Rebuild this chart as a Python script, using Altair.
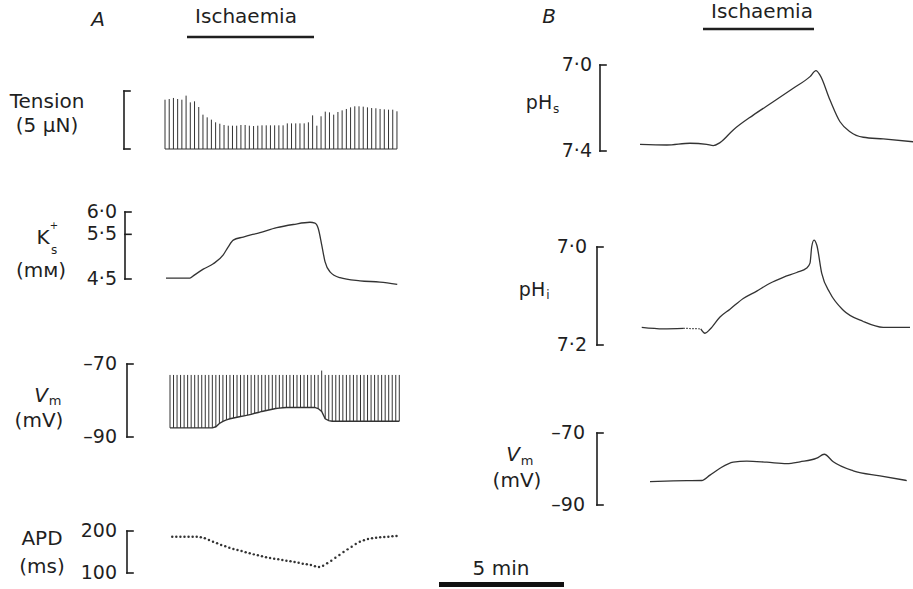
import altair as alt
import pandas as pd

FONT = "DejaVu Sans"
INK = "#1f1f1f"
TRACE = "#333333"

# ---------------- Panel A data ----------------
# Tension (uN), one twitch per stimulus
TENSION_UN = [4.25, 4.31, 4.40, 4.31, 4.25, 4.60, 4.02, 4.11, 3.62, 2.96,
              2.73, 2.53, 2.30, 2.18, 2.07, 2.01, 2.01, 2.01, 2.07, 2.07,
              2.01, 1.98, 2.01, 2.04, 2.04, 2.04, 2.04, 2.04, 2.04, 2.21,
              2.21, 2.21, 2.21, 2.21, 2.30, 2.90, 2.01, 2.82, 3.22, 3.16,
              2.96, 3.19, 3.33, 3.45, 3.59, 3.68, 3.68, 3.65, 3.59, 3.53,
              3.51, 3.45, 3.42, 3.39, 3.39, 3.25]
TENSION_T0 = 0.0      # min
TENSION_DT = 0.1687   # min between stimuli

# Extracellular K+ (mM)
K_T = [0.04, 1.0, 1.13, 1.53, 1.93, 2.33, 2.53, 2.73, 3.13, 3.8, 4.47,
       5.13, 5.8, 6.0, 6.13, 6.27, 6.4, 6.6, 7.0, 7.8, 8.6, 9.29]
K_MM = [4.52, 4.52, 4.57, 4.72, 4.84, 5.04, 5.22, 5.37, 5.44, 5.54, 5.65,
        5.72, 5.77, 5.75, 5.63, 5.26, 4.89, 4.66, 4.53, 4.46, 4.43, 4.38]

# Membrane potential (mV): resting level before each action potential
VMA_T0 = 0.2
VMA_DT = 0.1411
VMA_REST = [-87.5, -87.5, -87.5, -87.5, -87.5, -87.5, -87.5, -87.5, -87.5, -87.5,
            -87.5, -87.5, -87.5, -87.2, -86.3, -85.7, -85.3, -85.0, -84.8, -84.6,
            -84.4, -84.2, -84.0, -83.8, -83.5, -83.3, -83.0, -82.8, -82.6, -82.4,
            -82.2, -82.1, -82.0, -81.9, -81.9, -81.9, -81.9, -81.9, -81.9, -81.9,
            -81.9, -81.9, -82.2, -83.0, -85.0, -85.5, -85.7, -85.7, -85.7, -85.7,
            -85.7, -85.7, -85.7, -85.7, -85.7, -85.7, -85.7, -85.7, -85.7, -85.7,
            -85.7, -85.7, -85.7, -85.7, -85.7, -85.7]
VMA_PEAK = -73.0            # clipped top of the recorded action potentials
VMA_PEAK_EXCEPTION = {43: -71.8}

# Action potential duration (ms)
APD_T0 = 0.29
APD_DT = 0.1631
APD_MS = [186.5, 186.5, 186.5, 186.5, 186.5, 186.5, 186.5,
          185.0, 182.5, 178.6, 174.6, 170.6, 166.7, 163.5, 160.3, 157.1, 154.8,
          152.4, 149.2, 146.8, 144.4, 142.1, 139.7, 137.3, 135.7, 134.1, 132.5,
          131.0, 129.4, 127.8, 126.2, 124.6, 122.2, 120.6, 119.0, 115.9, 114.3,
          117.5, 123.0, 129.4, 136.5, 142.9, 150.0, 156.3, 162.7, 169.0, 174.6,
          177.8, 181.0, 182.5, 184.1, 185.0, 185.7, 186.5, 187.3, 188.1]

ISCH_A = [0.88, 5.96]        # min
SCALEBAR_MIN = [10.96, 15.96]  # 5 min calibration bar

# ---------------- Panel B data ----------------
PHS_T = [0.0, 1.07, 2.0, 2.67, 2.93, 3.2, 3.73, 4.53, 5.33, 6.13, 6.8, 7.04,
         7.2, 7.6, 8.0, 8.4, 8.93, 9.73, 10.93]
PHS = [7.369, 7.372, 7.364, 7.369, 7.375, 7.361, 7.302, 7.233, 7.171, 7.108,
       7.054, 7.026, 7.047, 7.163, 7.264, 7.310, 7.336, 7.344, 7.357]

PHI_T = [0.07, 0.93, 1.73, 2.43, 2.6, 2.8, 3.2, 3.6, 4.13, 4.67, 5.2, 5.73,
         6.27, 6.67, 6.8, 6.87, 6.96, 7.07, 7.27, 7.6, 8.13, 8.93, 9.73, 10.8]
PHI = [7.164, 7.167, 7.166, 7.167, 7.176, 7.168, 7.143, 7.127, 7.105, 7.090,
       7.074, 7.062, 7.052, 7.043, 7.033, 6.999, 6.986, 6.996, 7.054, 7.094,
       7.129, 7.152, 7.164, 7.164]
PHI_DOTTED = (1.73, 2.43)

VMB_T = [0.4, 1.33, 2.47, 2.8, 3.2, 3.73, 4.27, 5.07, 5.87, 6.4, 7.07, 7.37,
         7.73, 8.53, 9.6, 10.67]
VMB = [-83.5, -83.3, -83.2, -81.7, -79.8, -78.1, -77.8, -78.1, -78.5, -78.0,
       -77.0, -75.9, -78.0, -80.5, -81.9, -83.2]

ISCH_B = [2.52, 6.96]

# calibration brackets
TEN_TICKS, TEN_LABELS = [0, 5], ["", ""]
K_TICKS, K_LABELS = [4.5, 5.5, 6.0], ["4·5", "5·5", "6·0"]
VM_TICKS, VM_LABELS = [-90, -70], ["–90", "–70"]
APD_TICKS, APD_LABELS = [100, 200], ["100", "200"]
PHS_TICKS, PHS_LABELS = [7.0, 7.4], ["7·0", "7·4"]
PHI_TICKS, PHI_LABELS = [7.0, 7.2], ["7·0", "7·2"]

# ---------------- helpers ----------------
def xscale(panel):
    if panel == "A":
        return alt.Scale(domain=[0, 16], range=[165, 565], nice=False, zero=False)
    return alt.Scale(domain=[0, 11], range=[640, 915], nice=False, zero=False)


def yscale(domain, rng):
    return alt.Scale(domain=domain, range=rng, nice=False, zero=False)


ONE = pd.DataFrame({"one": [1]})


def txt(s, x, y, size=20, style="normal", align="center"):
    return alt.Chart(ONE).mark_text(
        text=s, font=FONT, fontSize=size, fontStyle=style, align=align,
        baseline="middle", color=INK
    ).encode(x=alt.value(x), y=alt.value(y))


def bracket(ticks, labels, ysc, x_line, tick_len, label_right, size=19):
    ends = pd.DataFrame({"lo": [min(ticks)], "hi": [max(ticks)]})
    tdf = pd.DataFrame({"v": ticks, "lab": labels})
    out = [
        alt.Chart(ends).mark_rule(color=INK, strokeWidth=1.6, strokeCap="square").encode(
            x=alt.value(x_line), y=alt.Y("lo:Q", scale=ysc, axis=None), y2="hi:Q"),
        alt.Chart(tdf).mark_rule(color=INK, strokeWidth=1.6, strokeCap="square").encode(
            x=alt.value(x_line), x2=alt.value(x_line + tick_len),
            y=alt.Y("v:Q", scale=ysc, axis=None)),
    ]
    if any(labels):
        out.append(alt.Chart(tdf).mark_text(
            align="right", baseline="middle", font=FONT, fontSize=size, color=INK
        ).encode(x=alt.value(label_right), y=alt.Y("v:Q", scale=ysc, axis=None),
                 text="lab:N"))
    return out


layers = []

# ---- Tension ----
ysT = yscale([0, 5], [149, 91])
ten_df = pd.DataFrame({
    "t": [TENSION_T0 + i * TENSION_DT for i in range(len(TENSION_UN))],
    "f": TENSION_UN,
})
layers.append(alt.Chart(ten_df).mark_rule(color=TRACE, strokeWidth=1.0).encode(
    x=alt.X("t:Q", scale=xscale("A"), axis=None),
    y=alt.Y("f:Q", scale=ysT, axis=None), y2=alt.datum(0)))
base_df = pd.DataFrame({"t0": [ten_df.t.min()], "t1": [ten_df.t.max()], "z": [0]})
layers.append(alt.Chart(base_df).mark_rule(color=TRACE, strokeWidth=1.2).encode(
    x=alt.X("t0:Q", scale=xscale("A"), axis=None), x2="t1:Q",
    y=alt.Y("z:Q", scale=ysT, axis=None)))
layers += bracket(TEN_TICKS, TEN_LABELS, ysT, 124, 6, 117)

# ---- K+ ----
ysK = yscale([4.5, 6.0], [279, 212])
layers.append(alt.Chart(pd.DataFrame({"t": K_T, "k": K_MM})).mark_line(
    color=TRACE, strokeWidth=1.3, interpolate="monotone").encode(
    x=alt.X("t:Q", scale=xscale("A"), axis=None),
    y=alt.Y("k:Q", scale=ysK, axis=None)))
layers += bracket(K_TICKS, K_LABELS, ysK, 125, 6, 117)

# ---- Vm A ----
ysV = yscale([-90, -70], [437, 364])
vma_df = pd.DataFrame({
    "t": [VMA_T0 + i * VMA_DT for i in range(len(VMA_REST))],
    "rest": VMA_REST,
    "peak": [VMA_PEAK_EXCEPTION.get(i, VMA_PEAK) for i in range(len(VMA_REST))],
})
layers.append(alt.Chart(vma_df).mark_rule(color=TRACE, strokeWidth=1.0).encode(
    x=alt.X("t:Q", scale=xscale("A"), axis=None),
    y=alt.Y("rest:Q", scale=ysV, axis=None), y2="peak:Q"))
layers.append(alt.Chart(vma_df).mark_line(color=TRACE, strokeWidth=1.4).encode(
    x=alt.X("t:Q", scale=xscale("A"), axis=None),
    y=alt.Y("rest:Q", scale=ysV, axis=None)))
layers += bracket(VM_TICKS, VM_LABELS, ysV, 127, 6, 117)

# ---- APD ----
ysA = yscale([100, 200], [573, 531])
apd_df = pd.DataFrame({
    "t": [APD_T0 + i * APD_DT for i in range(len(APD_MS))],
    "apd": APD_MS,
})
layers.append(alt.Chart(apd_df).mark_circle(color=TRACE, size=6, opacity=1).encode(
    x=alt.X("t:Q", scale=xscale("A"), axis=None),
    y=alt.Y("apd:Q", scale=ysA, axis=None)))
layers += bracket(APD_TICKS, APD_LABELS, ysA, 127, 6, 117)

# ---- Ischaemia A and 5 min bar ----
layers.append(alt.Chart(pd.DataFrame({"s": [ISCH_A[0]], "e": [ISCH_A[1]]})).mark_rule(
    color=INK, strokeWidth=2.6).encode(
    x=alt.X("s:Q", scale=xscale("A"), axis=None), x2="e:Q", y=alt.value(37)))
layers.append(alt.Chart(pd.DataFrame({"s": [SCALEBAR_MIN[0]], "e": [SCALEBAR_MIN[1]]})).mark_rule(
    color="#111111", strokeWidth=5).encode(
    x=alt.X("s:Q", scale=xscale("A"), axis=None), x2="e:Q", y=alt.value(584.5)))

# ---- pHs ----
ysPs = yscale([7.0, 7.4], [65, 151])
layers.append(alt.Chart(pd.DataFrame({"t": PHS_T, "ph": PHS})).mark_line(
    color=TRACE, strokeWidth=1.3, interpolate="monotone").encode(
    x=alt.X("t:Q", scale=xscale("B"), axis=None),
    y=alt.Y("ph:Q", scale=ysPs, axis=None)))
layers += bracket(PHS_TICKS, PHS_LABELS, ysPs, 600, 6, 592)

# ---- pHi ----
ysPi = yscale([7.0, 7.2], [247, 345])
phi_df = pd.DataFrame({"t": PHI_T, "ph": PHI})
solid = phi_df[(phi_df.t <= PHI_DOTTED[0]) | (phi_df.t >= PHI_DOTTED[1])].copy()
solid["seg"] = (solid.t >= PHI_DOTTED[1]).astype(int)
dotted = phi_df[(phi_df.t >= PHI_DOTTED[0]) & (phi_df.t <= PHI_DOTTED[1])]
layers.append(alt.Chart(solid).mark_line(
    color=TRACE, strokeWidth=1.3, interpolate="monotone").encode(
    x=alt.X("t:Q", scale=xscale("B"), axis=None),
    y=alt.Y("ph:Q", scale=ysPi, axis=None), detail="seg:N"))
layers.append(alt.Chart(dotted).mark_line(
    color=TRACE, strokeWidth=1.2, strokeDash=[1.5, 1.5]).encode(
    x=alt.X("t:Q", scale=xscale("B"), axis=None),
    y=alt.Y("ph:Q", scale=ysPi, axis=None)))
layers += bracket(PHI_TICKS, PHI_LABELS, ysPi, 597, 6, 587)

# ---- Vm B ----
ysVb = yscale([-90, -70], [505, 433])
layers.append(alt.Chart(pd.DataFrame({"t": VMB_T, "v": VMB})).mark_line(
    color=TRACE, strokeWidth=1.3, interpolate="monotone").encode(
    x=alt.X("t:Q", scale=xscale("B"), axis=None),
    y=alt.Y("v:Q", scale=ysVb, axis=None)))
layers += bracket(VM_TICKS, VM_LABELS, ysVb, 597, 6, 585)

layers.append(alt.Chart(pd.DataFrame({"s": [ISCH_B[0]], "e": [ISCH_B[1]]})).mark_rule(
    color=INK, strokeWidth=2.6).encode(
    x=alt.X("s:Q", scale=xscale("B"), axis=None), x2="e:Q", y=alt.value(29)))

# ---- text ----
layers += [
    txt("A", 98, 20, style="italic"),
    txt("Ischaemia", 246, 17),
    txt("Tension", 47, 102),
    txt("(5 μN)", 47, 126),
    txt("K", 43, 238),
    txt("+", 54, 226, size=10),
    txt("s", 54, 250, size=12),
    txt("(mᴍ)", 41, 271),
    txt("V", 41, 396, style="italic"),
    txt("m", 55, 401, size=13),
    txt("(mV)", 39, 421),
    txt("APD", 42, 539),
    txt("(ms)", 42, 567),
    txt("5 min", 501, 569),
    txt("B", 549, 17, style="italic"),
    txt("Ischaemia", 762, 12),
    txt("pH", 539, 103, size=19),
    txt("s", 556, 109, size=12),
    txt("pH", 532, 290, size=19),
    txt("i", 548, 295, size=12),
    txt("V", 513, 455, style="italic"),
    txt("m", 527, 461, size=13),
    txt("(mV)", 517, 481),
]

chart = alt.layer(*layers).resolve_scale(
    x="independent", y="independent"
).properties(
    width=913, height=589, padding=0,
    autosize=alt.AutoSizeParams(type="none"),
    background="white",
).configure_view(strokeWidth=0)

chart.save("out.html", embed_options={"renderer": "svg", "actions": False})
